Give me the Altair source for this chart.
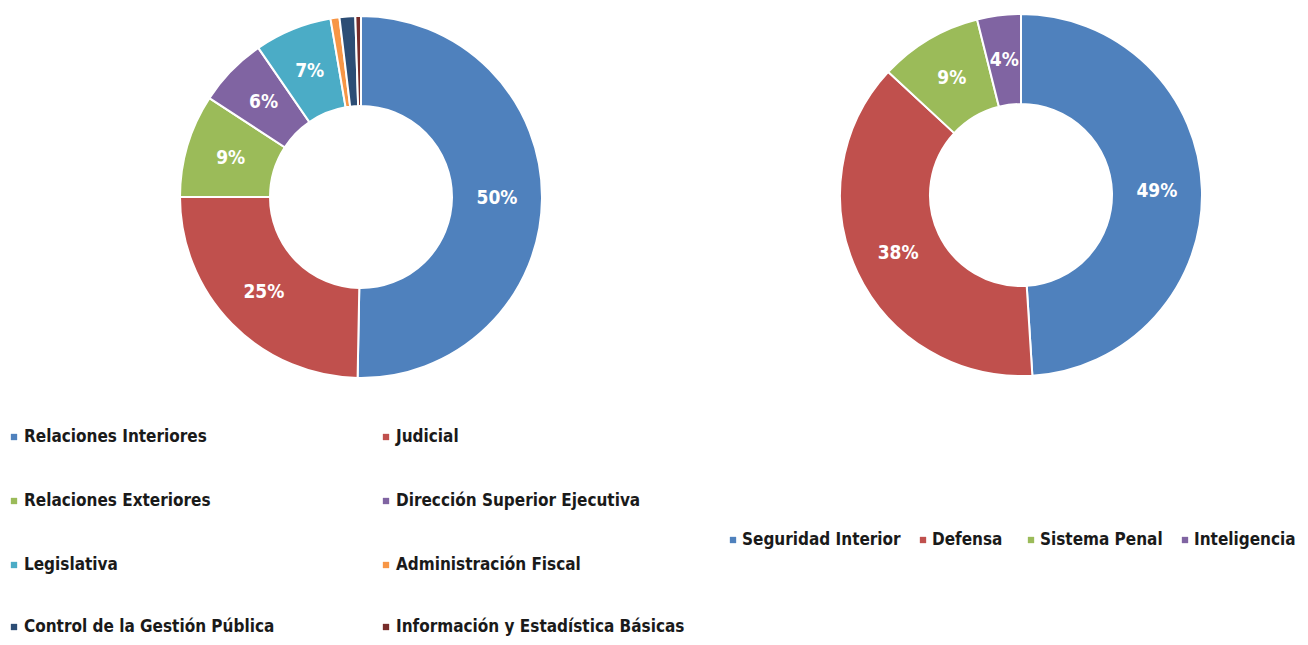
import altair as alt
import pandas as pd

# ---- data ----
left_categories = ["Relaciones Interiores", "Judicial", "Relaciones Exteriores",
                   "Dirección Superior Ejecutiva", "Legislativa", "Administración Fiscal",
                   "Control de la Gestión Pública", "Información y Estadística Básicas"]
left_values = [50.3, 24.7, 9.2, 6.2, 6.9, 0.8, 1.4, 0.5]
left_labels = ["50%", "25%", "9%", "6%", "7%", "", "", ""]

right_categories = ["Seguridad Interior", "Defensa", "Sistema Penal", "Inteligencia"]
right_values = [49.0, 37.9, 9.2, 3.9]
right_labels = ["49%", "38%", "9%", "4%"]

# ---- style / layout ----
left_colors = ["#4F81BD", "#C0504D", "#9BBB59", "#8064A2", "#4BACC6", "#F79646", "#2C4D75", "#772C2A"]
right_colors = ["#4F81BD", "#C0504D", "#9BBB59", "#8064A2"]
FONT = "DejaVu Sans Condensed, Liberation Sans Narrow, sans-serif"
TEXT_COLOR = "#1a1a1a"
OFF = 8
W, H = 1292, 629
LC = (361 - OFF, 197 - OFF)
RC = (1021 - OFF, 195 - OFF)
R_OUT, R_IN, R_LAB = 181, 91, 136

left_df = pd.DataFrame({"cat": left_categories, "value": left_values,
                        "label": left_labels, "order": range(len(left_categories))})
right_df = pd.DataFrame({"cat": right_categories, "value": right_values,
                         "label": right_labels, "order": range(len(right_categories))})


def donut(df, cats, colors, center):
    base = alt.Chart(df).encode(
        theta=alt.Theta("value:Q", stack=True),
        order=alt.Order("order:Q"),
        x=alt.value(center[0]),
        y=alt.value(center[1]),
    )
    arc = base.mark_arc(outerRadius=R_OUT, innerRadius=R_IN, stroke="white", strokeWidth=2).encode(
        color=alt.Color("cat:N", scale=alt.Scale(domain=cats, range=colors), legend=None)
    )
    txt = base.mark_text(radius=R_LAB, font=FONT, fontSize=19, fontWeight="bold",
                         color="white").encode(text="label:N")
    return alt.layer(arc, txt).resolve_scale(theta="independent", color="independent")


# left legend: 2 columns, 4 rows
lrows = [437, 501, 565, 627]
lcols_sym = [14, 386]
lleg = pd.DataFrame({
    "cat": left_categories,
    "sx": [lcols_sym[i % 2] - OFF for i in range(len(left_categories))],
    "sy": [lrows[i // 2] - OFF for i in range(len(left_categories))],
})
lleg["tx"] = lleg["sx"] + 10

# right legend: one row
r_sym_x = [733, 923, 1031, 1185]
rleg = pd.DataFrame({
    "cat": right_categories,
    "sx": [v - OFF for v in r_sym_x],
    "sy": [540 - OFF] * len(right_categories),
})
rleg["tx"] = rleg["sx"] + 9


def legend(df, cats, colors):
    sym = alt.Chart(df).mark_square(size=40, opacity=1).encode(
        x=alt.X("sx:Q", scale=None), y=alt.Y("sy:Q", scale=None),
        color=alt.Color("cat:N", scale=alt.Scale(domain=cats, range=colors), legend=None),
    )
    txt = alt.Chart(df).mark_text(align="left", baseline="middle", font=FONT, fontSize=17,
                                  fontWeight="bold", color=TEXT_COLOR).encode(
        x=alt.X("tx:Q", scale=None), y=alt.Y("sy:Q", scale=None), text="cat:N")
    return alt.layer(sym, txt)


chart = alt.layer(
    donut(left_df, left_categories, left_colors, LC),
    donut(right_df, right_categories, right_colors, RC),
    legend(lleg, left_categories, left_colors),
    legend(rleg, right_categories, right_colors),
).resolve_scale(theta="independent", color="independent").properties(
    width=W, height=H, padding=0, autosize=alt.AutoSizeParams(type="none")
).configure_view(strokeWidth=0, stroke="transparent")

chart.save("out.html", embed_options={"renderer": "svg", "actions": False})
